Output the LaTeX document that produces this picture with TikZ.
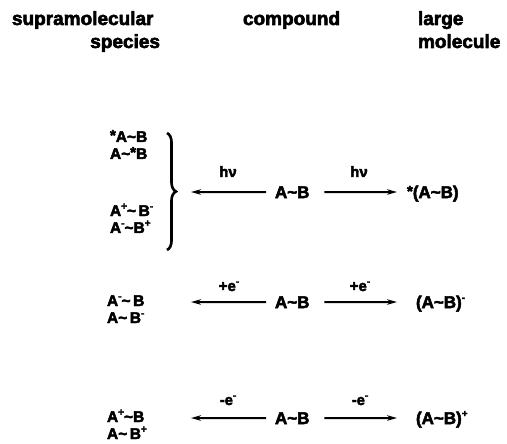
\documentclass[tikz,border=0pt]{standalone}
\usepackage{fontspec}
\setmainfont{Liberation Sans}[BoldFeatures={FakeBold=3}]
\usetikzlibrary{arrows.meta,decorations.pathreplacing}
\newcommand{\tld}{\textasciitilde}
\newcommand{\sps}[1]{\raisebox{0.42em}{\fontsize{10}{10}\selectfont #1}}
\newcommand{\exc}{\raisebox{0.1em}{\fontsize{15}{15}\selectfont *}}
\begin{document}
\begin{tikzpicture}[x=1pt,y=-1pt,
  every node/.style={inner sep=0pt, outer sep=0pt},
  head/.style={font=\fontsize{19}{22}\selectfont\bfseries},
  chem/.style={font=\fontsize{17}{19}\selectfont\bfseries},
  side/.style={font=\fontsize{15.5}{18}\selectfont\bfseries},
  lbl/.style={font=\fontsize{15}{18}\selectfont\bfseries},
  rxn/.style={line width=2pt, -{Stealth[length=10pt,width=5.5pt]}},
  curly/.style={line width=2.6pt, decorate, decoration={brace, amplitude=9pt}}]
\useasboundingbox (0,0) rectangle (507,444);

% headers
\node[head, anchor=base west] (h1)  at (12,25)  {supramolecular};
\node[head, anchor=base east] (h1b) at (160,48) {species};
\node[head, anchor=base west] (h2)  at (243,25) {compound};
\node[head, anchor=base west] (h3)  at (418,25) {large};
\node[head, anchor=base west] (h3b) at (418,48) {molecule};

% row 1
\node[side, anchor=base west] (s1) at (110,142) {\exc A\tld B};
\node[side, anchor=base west] (s2) at (110,159) {A\tld\exc B};
\node[side, anchor=base west] (s3) at (110,216) {A\sps{+}\tld\,B\sps{-}};
\node[side, anchor=base west] (s4) at (110,233) {A\sps{-}\tld B\sps{+}};
\coordinate (bt1) at (167,133);
\coordinate (bb1) at (167,250);
\draw[curly] (bt1) -- (bb1);
\node[chem, anchor=base west] (c1) at (275,198) {A\tld B};
\node[chem, anchor=base west] (r1) at (407,198) {\exc(A\tld B)};
\coordinate (la1) at (191,192);
\coordinate (ra1) at (397,192);
\draw[rxn, shorten <=9pt] (c1.west) -- (la1);
\draw[rxn, shorten <=15pt] (c1.east) -- (ra1);
\node[lbl, anchor=base] (e1l) at (228,177) {hν};
\node[lbl, anchor=base] (e1r) at (359,177) {hν};

% row 2
\node[side, anchor=base west] (s5) at (107,306) {A\sps{-}\tld\,B};
\node[side, anchor=base west] (s6) at (107,323) {A\tld\,B\sps{-}};
\node[chem, anchor=base west] (c2) at (275,308) {A\tld B};
\node[chem, anchor=base west] (r2) at (416,308) {(A\tld B)\sps{-}};
\coordinate (la2) at (191,302);
\coordinate (ra2) at (397,302);
\draw[rxn, shorten <=9pt] (c2.west) -- (la2);
\draw[rxn, shorten <=15pt] (c2.east) -- (ra2);
\node[lbl, anchor=base] (e2l) at (229,291) {+e\sps{-}};
\node[lbl, anchor=base] (e2r) at (360,291) {+e\sps{-}};

% row 3
\node[side, anchor=base west] (s7) at (107,422) {A\sps{+}\tld B};
\node[side, anchor=base west] (s8) at (107,439) {A\tld\,B\sps{+}};
\node[chem, anchor=base west] (c3) at (275,424) {A\tld B};
\node[chem, anchor=base west] (r3) at (416,424) {(A\tld B)\sps{+}};
\coordinate (la3) at (191,418);
\coordinate (ra3) at (397,418);
\draw[rxn, shorten <=9pt] (c3.west) -- (la3);
\draw[rxn, shorten <=15pt] (c3.east) -- (ra3);
\node[lbl, anchor=base] (e3l) at (228,405) {-e\sps{-}};
\node[lbl, anchor=base] (e3r) at (360,405) {-e\sps{-}};
\end{tikzpicture}
\end{document}
